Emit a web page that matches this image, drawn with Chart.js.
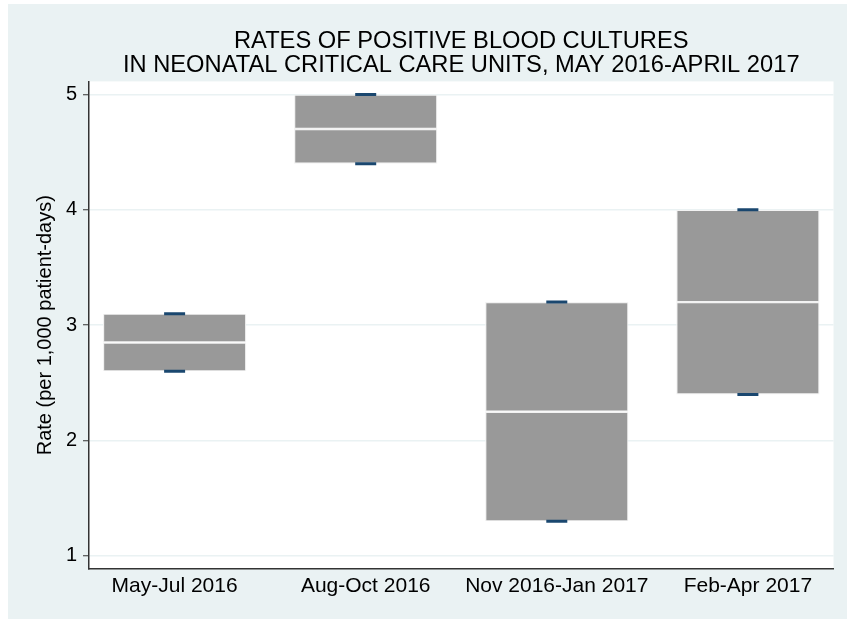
<!DOCTYPE html>
<html>
<head>
<meta charset="utf-8">
<script src="https://cdn.jsdelivr.net/npm/chart.js@4/dist/chart.umd.min.js"></script>
<style>
  body { margin: 0; background: #fff; }
  #wrap { width: 847px; height: 619px; position: relative; }
</style>
</head>
<body>
<div id="wrap"><canvas id="myChart"></canvas></div>
<script>
  // box plot data
  const categories = ["May-Jul 2016", "Aug-Oct 2016", "Nov 2016-Jan 2017", "Feb-Apr 2017"];
  const minVals = [2.6, 4.4, 1.3, 2.4];
  const q1Vals = [2.6, 4.4, 1.3, 2.4];
  const medianVals = [2.85, 4.7, 2.25, 3.2];
  const q3Vals = [3.1, 5.0, 3.2, 4.0];
  const maxVals = [3.1, 5.0, 3.2, 4.0];
  const yTicks = [1, 2, 3, 4, 5];

  const fontFamily = "'Liberation Sans', Arial, sans-serif";
  const navy = "#1a476f";
  const bgColor = "#eaf2f3";

  // stata-like background: light outer region, white plot region
  const backdrop = {
    id: "backdrop",
    beforeDraw(chart) {
      const ctx = chart.ctx;
      const a = chart.chartArea;
      ctx.save();
      ctx.fillStyle = "#fff";
      ctx.fillRect(0, 0, chart.width, chart.height);
      ctx.fillStyle = bgColor;
      ctx.fillRect(8, 4, chart.width - 8, chart.height - 4);
      ctx.fillStyle = "#fff";
      ctx.fillRect(a.left, a.top, a.right - a.left, a.bottom - a.top);
      ctx.restore();
    }
  };

  const lower = categories.map((c, i) => ({ x: i, y: [q1Vals[i], medianVals[i]] }));
  const upper = categories.map((c, i) => ({ x: i, y: [medianVals[i], q3Vals[i]] }));
  const mins = categories.map((c, i) => ({ x: i, y: minVals[i] }));
  const maxs = categories.map((c, i) => ({ x: i, y: maxVals[i] }));

  const boxStyle = {
    backgroundColor: "#999999",
    borderColor: "#f2f2f2",
    borderWidth: 1.2,
    borderSkipped: false,
    grouped: false,
    categoryPercentage: 1,
    barPercentage: 0.75,
    order: 2
  };
  const capStyle = {
    type: "line",
    showLine: false,
    pointStyle: "line",
    pointRadius: 10.5,
    pointHoverRadius: 10.5,
    pointBorderWidth: 3,
    pointBorderColor: navy,
    borderColor: navy,
    order: 1
  };

  const config = {
    type: "bar",
    data: {
      datasets: [
        Object.assign({ label: "lower", data: lower }, boxStyle),
        Object.assign({ label: "upper", data: upper }, boxStyle),
        Object.assign({ label: "min", data: mins }, capStyle),
        Object.assign({ label: "max", data: maxs }, capStyle)
      ]
    },
    options: {
      responsive: true,
      maintainAspectRatio: false,
      animation: false,
      layout: { padding: { left: 0, right: 10, top: 0, bottom: 0 } },
      plugins: {
        legend: { display: false },
        tooltip: { enabled: false },
        title: {
          display: true,
          fullSize: false,
          text: ["RATES OF POSITIVE BLOOD CULTURES", "IN NEONATAL CRITICAL CARE UNITS, MAY 2016-APRIL 2017"],
          color: "#000",
          font: { family: fontFamily, size: 23.7, weight: "normal", lineHeight: 1.0 },
          padding: { top: 30, bottom: 4 }
        }
      },
      scales: {
        x: {
          type: "linear",
          position: "bottom",
          offset: false,
          min: -0.448,
          max: 3.448,
          grid: { display: false, drawTicks: false, offset: false },
          border: { display: true, color: "#333", width: 1.5 },
          ticks: {
            color: "#000",
            font: { family: fontFamily, size: 21 },
            padding: 5,
            autoSkip: false,
            maxRotation: 0,
            callback: (v) => categories[v]
          },
          afterBuildTicks: (scale) => {
            scale.ticks = categories.map((c, i) => ({ value: i }));
          },
          afterFit: (scale) => { scale.height = 50; }
        },
        y: {
          min: 0.887,
          max: 5.113,
          grid: { color: bgColor, lineWidth: 1.5, tickColor: "#333", tickLength: 6, tickWidth: 1 },
          border: { display: true, color: "#333", width: 1.5 },
          ticks: {
            color: "#000",
            font: { family: fontFamily, size: 20 },
            padding: 6
          },
          afterBuildTicks: (scale) => {
            scale.ticks = yTicks.map(v => ({ value: v }));
          },
          title: {
            display: true,
            text: "Rate (per 1,000 patient-days)",
            color: "#000",
            font: { family: fontFamily, size: 20 },
            padding: { top: 33, bottom: 0 }
          },
          afterFit: (scale) => { scale.width = 89; }
        }
      }
    },
    plugins: [backdrop]
  };

  var myChart = new Chart(document.getElementById("myChart"), config);
</script>
</body>
</html>
